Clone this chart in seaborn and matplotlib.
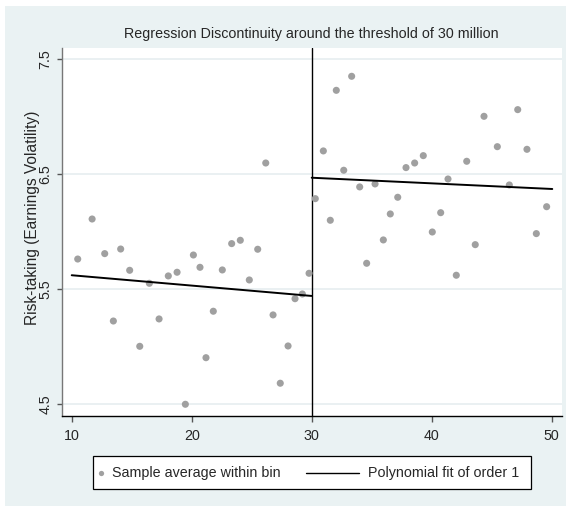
import numpy as np
import pandas as pd
import matplotlib
matplotlib.use("Agg")
import matplotlib.pyplot as plt
from matplotlib.lines import Line2D
from matplotlib.patches import Rectangle
import seaborn as sns

# ---- data ----
left_x = [10.5, 11.7, 12.75, 13.47, 14.08, 14.83, 15.67, 16.47, 17.28, 18.05,
          18.78, 19.47, 20.14, 20.69, 21.19, 21.8, 22.55, 23.33, 24.05, 24.8,
          25.5, 26.17, 26.78, 27.38, 28.03, 28.61, 29.22, 29.78]
left_y = [5.763, 6.111, 5.81, 5.224, 5.85, 5.665, 5.004, 5.552, 5.242, 5.616,
          5.648, 4.50, 5.798, 5.691, 4.905, 5.309, 5.668, 5.897, 5.926, 5.581,
          5.848, 6.598, 5.277, 4.683, 5.007, 5.418, 5.459, 5.639]
right_x = [30.3, 30.97, 31.55, 32.05, 32.67, 33.33, 34.0, 34.58, 35.28, 35.97,
           36.55, 37.17, 37.86, 38.58, 39.3, 40.05, 40.75, 41.36, 42.05, 42.92,
           43.63, 44.36, 45.47, 46.47, 47.17, 47.94, 48.72, 49.58]
right_y = [6.288, 6.703, 6.10, 7.23, 6.535, 7.352, 6.39, 5.726, 6.416, 5.929,
           6.155, 6.30, 6.558, 6.598, 6.662, 5.998, 6.166, 6.459, 5.622, 6.613,
           5.888, 7.004, 6.74, 6.407, 7.062, 6.717, 5.984, 6.218]
fit_left_x = [10, 30]
fit_left_y = [5.622, 5.442]
fit_right_x = [30, 50.05]
fit_right_y = [6.47, 6.372]
threshold = 30
x_ticks = [10, 20, 30, 40, 50]
y_ticks = [4.5, 5.5, 6.5, 7.5]
title = "Regression Discontinuity around the threshold of 30 million"
ylabel = "Risk-taking (Earnings Volatility)"
legend_labels = ["Sample average within bin", "Polynomial fit of order 1"]

pts = pd.DataFrame({"x": left_x + right_x, "y": left_y + right_y})
fits = pd.DataFrame({"x": fit_left_x + fit_right_x,
                     "y": fit_left_y + fit_right_y,
                     "side": ["left"] * 2 + ["right"] * 2})

sns.set_theme(style="white")
plt.rcParams["font.family"] = ["Liberation Sans", "DejaVu Sans"]

W, H = 569, 511
FS = 10.3
fig = plt.figure(figsize=(W / 100, H / 100), dpi=100, facecolor="white")
bg = "#EAF2F3"
dot = "#A0A0A0"


def fx(px):
    return px / W


def fy(py):
    return 1 - py / H


fig.patches.append(Rectangle((fx(5), fy(506)), (566 - 5) / W, (506 - 6) / H,
                             transform=fig.transFigure, facecolor=bg,
                             edgecolor="none", zorder=-5))

ax = fig.add_axes([fx(62), fy(416), (562 - 62) / W, (416 - 48) / H])
ax.set_zorder(1)
ax.set_facecolor("white")

ax.set_xlim(9.19, 50.86)
ax.set_ylim(4.398, 7.598)

for yv in y_ticks:
    ax.axhline(yv, color="#E6EEF0", lw=1.2, zorder=1)

sns.scatterplot(data=pts, x="x", y="y", ax=ax, color=dot, s=26,
                edgecolor="none", zorder=3, legend=False)
sns.lineplot(data=fits, x="x", y="y", units="side", estimator=None, ax=ax,
             color="black", lw=1.4, zorder=4, legend=False)
ax.axvline(threshold, color="black", lw=1.0, zorder=2)

ax.set_xticks(x_ticks)
ax.set_yticks(y_ticks)
ax.set_xticklabels([str(t) for t in x_ticks], fontsize=FS)
ax.set_yticklabels([str(t) for t in y_ticks], fontsize=FS, rotation=90, va="center")
ax.tick_params(axis="x", direction="out", length=4.5, width=1, color="#555555",
               bottom=True, pad=5.0)
ax.tick_params(axis="y", direction="out", length=3.8, width=1, color="#555555",
               left=True, pad=3.0)
ax.set_xlabel("")
ax.set_ylabel("")

for s in ["top", "right"]:
    ax.spines[s].set_visible(False)
ax.spines["left"].set_color("#777777")
ax.spines["left"].set_linewidth(1.0)
ax.spines["bottom"].set_color("black")
ax.spines["bottom"].set_linewidth(1.0)

fig.text(fx(32.5), fy(218), ylabel, ha="center", va="center", rotation=90,
         fontsize=11.2)
fig.text(fx(311), fy(34), title, ha="center", va="center", fontsize=FS)

# ---- legend box, drawn like the reference (short marker key, long line key) ----
fig.patches.append(Rectangle((fx(93), fy(489)), (531 - 93) / W, (489 - 456) / H,
                             transform=fig.transFigure, facecolor="white",
                             edgecolor="black", lw=0.9, zorder=2))
fig.lines.append(Line2D([fx(100.7)], [fy(472.5)], transform=fig.transFigure,
                        marker="o", markersize=3.8, color=dot, lw=0,
                        markeredgecolor="none", zorder=3))
fig.text(fx(111.5), fy(472.5), legend_labels[0], ha="left", va="center",
         fontsize=FS, zorder=3)
fig.lines.append(Line2D([fx(306), fx(359)], [fy(472.5), fy(472.5)],
                        transform=fig.transFigure, color="black", lw=1.0, zorder=3))
fig.text(fx(368), fy(472.5), legend_labels[1], ha="left", va="center",
         fontsize=FS, zorder=3)

fig.savefig("out.png", dpi=100, facecolor="white")
